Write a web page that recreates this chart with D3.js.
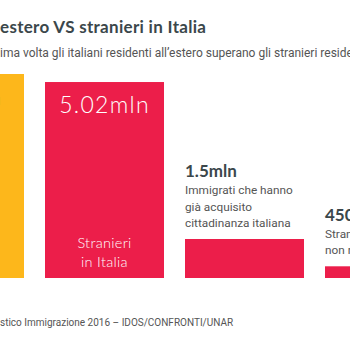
<!DOCTYPE html>
<html><head><meta charset="utf-8">
<script src="https://cdn.jsdelivr.net/npm/d3@7"></script>
<style>
html,body{margin:0;padding:0;background:#fff;overflow:hidden;}
svg{display:block;}
</style></head>
<body>
<svg id="c" width="350" height="350"></svg>
<script>
const categories = ["Italiani all'estero", "Stranieri in Italia", "Cittadinanza", "Non regolari"];
const values = [5.2, 5.02, 1.5, 0.45];
const valueLabels = ["5.2mln", "5.02mln", "1.5mln", "450mila"];
const descLines = [["Italiani", "all'estero"], ["Stranieri", "in Italia"], ["Immigrati che hanno", "già acquisito", "cittadinanza italiana"], ["Stranieri", "non regolari"]];
const inside = [true, true, false, false];
const colors = ["#FDB71B", "#EC1E4A", "#EC1E4A", "#EC1E4A"];
const titleText = ["Italiani all'", "estero VS stranieri in Italia"];
const subtitleText = ["Per la pr", "ima volta gli italiani residenti all\u2019estero superano gli stranieri residenti in Italia"];
const sourceText = ["Fonte: Dossier Stati", "stico Immigrazione 2016 \u2013 IDOS/CONFRONTI/UNAR"];

const svg = d3.select("#c");
const x = d3.scaleBand().domain(categories).range([-95, 444]).paddingInner(0.15).paddingOuter(0);
const y = d3.scaleLinear().domain([0, 1.5, 5.2]).range([278, 239, 74]);

function clippedText(parts, yPos, size, weight, color, family, ls) {
  const t = svg.append("text").attr("y", yPos).attr("font-size", size).attr("font-weight", weight)
    .attr("fill", color).attr("font-family", family).attr("letter-spacing", ls || 0);
  const pre = t.append("tspan").text(parts[0]);
  t.append("tspan").text(parts[1]);
  const w = pre.node().getComputedTextLength();
  t.attr("x", -w);
}
clippedText(titleText, 33, 17, 700, "#3B474B", "Lato, sans-serif", 0.3);
clippedText(subtitleText, 57, 12, 400, "#555", "Roboto, sans-serif");
clippedText(sourceText, 326, 10, 400, "#555", "Roboto, sans-serif");

const g = svg.append("g");
categories.forEach((c, i) => {
  const x0 = x(c), bw = x.bandwidth(), top = y(values[i]);
  g.append("rect").attr("x", x0).attr("y", top).attr("width", bw).attr("height", y(0) - top).attr("fill", colors[i]);
  if (inside[i]) {
    const fc = i === 0 ? "#3B474B" : "#fff";
    g.append("text").attr("x", x0 + bw / 2).attr("y", top + 31).attr("text-anchor", "middle")
      .attr("font-family", "Lato, sans-serif").attr("font-weight", 300).attr("font-size", 23)
      .attr("letter-spacing", 1.3).attr("fill", fc).text(valueLabels[i]);
    descLines[i].forEach((l, j) => {
      g.append("text").attr("x", x0 + bw / 2).attr("y", 248 + j * 19).attr("text-anchor", "middle")
        .attr("font-family", "Lato, sans-serif").attr("font-weight", 300).attr("font-size", 14.5)
        .attr("letter-spacing", 0.3).attr("fill", fc).text(l);
    });
  } else {
    const n = descLines[i].length;
    descLines[i].forEach((l, j) => {
      g.append("text").attr("x", x0).attr("y", top - 12 - (n - 1 - j) * 16.5)
        .attr("font-family", "Roboto, sans-serif").attr("font-size", 11.8).attr("fill", "#555").text(l);
    });
    g.append("text").attr("x", x0).attr("y", top - 12 - (n - 1) * 16.5 - 17)
      .attr("font-family", "Lato, sans-serif").attr("font-weight", 700).attr("font-size", 17)
      .attr("fill", "#3B474B").text(valueLabels[i]);
  }
});
</script>
</body></html>
